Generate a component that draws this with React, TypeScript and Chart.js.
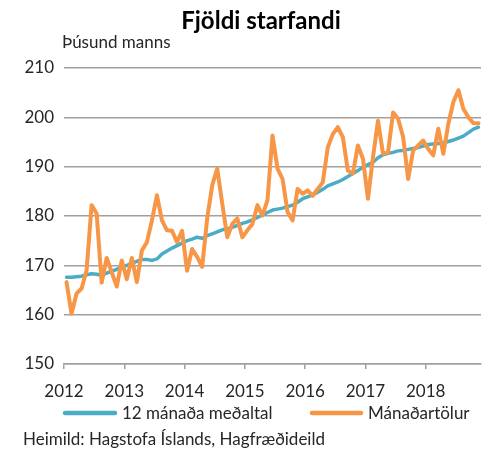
import React, { useEffect, useRef } from "react";
import { Chart, registerables } from "chart.js";

Chart.register(...registerables);

const yearLabels = ["2012", "2013", "2014", "2015", "2016", "2017", "2018"];

const average12 = [
  167.6, 167.6, 167.7, 167.8, 168.1, 168.3, 168.2, 168.0, 168.4, 168.8,
  169.2, 169.7, 170.0, 170.4, 170.8, 171.2, 171.2, 171.0, 171.3, 172.3,
  172.9, 173.5, 174.0, 174.5, 175.0, 175.3, 175.7, 175.5, 176.0, 176.4,
  176.8, 177.2, 177.4, 177.7, 178.1, 178.5, 178.8, 179.2, 179.7, 180.2,
  180.7, 181.2, 181.4, 181.6, 181.9, 182.2, 182.8, 183.5, 183.9, 184.3,
  184.8, 185.4, 186.1, 186.5, 186.9, 187.4, 188.0, 188.6, 189.2, 189.9,
  190.4, 190.9, 191.8, 192.4, 192.7, 192.9, 193.2, 193.3, 193.5, 193.7,
  193.9, 194.2, 194.5, 194.6, 194.7, 194.8, 195.1, 195.4, 195.8, 196.2,
  196.9, 197.6, 198.0,
];

const monthly = [
  166.6, 160.2, 164.3, 165.3, 169.0, 182.2, 180.5, 166.5, 171.5, 168.6,
  165.7, 171.0, 167.2, 171.5, 166.6, 173.0, 174.7, 179.1, 184.2, 179.1,
  177.1, 177.0, 174.7, 177.0, 168.9, 173.3, 171.7, 169.7, 179.5, 186.2,
  189.6, 182.5, 175.7, 178.4, 179.5, 175.7, 177.1, 178.4, 182.2, 180.1,
  183.2, 196.3, 189.6, 187.5, 180.8, 179.1, 185.5, 184.5, 185.2, 184.1,
  185.5, 186.8, 193.9, 196.6, 198.0, 196.0, 189.2, 188.6, 194.3, 191.6,
  183.5, 191.9, 199.3, 192.6, 192.9, 201.0, 199.7, 196.0, 187.5, 193.3,
  194.3, 195.3, 193.6, 192.3, 197.7, 192.6, 198.7, 203.1, 205.5, 201.7,
  200.0, 198.8, 198.8,
];

const seriesNames = ["12 mánaða meðaltal", "Mánaðartölur"];
const seriesColors = ["#4BACC6", "#F79646"];
const titleText = "Fjöldi starfandi";
const unitText = "Þúsund manns";
const sourceText = "Heimild: Hagstofa Íslands, Hagfræðideild";

const FONT = "Lato, 'Open Sans', sans-serif";
const TEXT = "#262626";
const GRID = "#a0a0a0";

const textPlugin = {
  id: "textPlugin",
  afterDraw(chart: any) {
    const ctx = chart.ctx;
    const area = chart.chartArea;
    ctx.save();
    ctx.fillStyle = "#000";
    ctx.textBaseline = "alphabetic";
    ctx.textAlign = "center";
    ctx.font = `bold 24px ${FONT}`;
    ctx.fillText(titleText, 261, 29);

    ctx.textAlign = "left";
    ctx.fillStyle = TEXT;
    ctx.font = `17px ${FONT}`;
    ctx.fillText(unitText, area.left - 2, 48);

    // legend
    const ly = 413;
    const items = [
      { x: 63, w: 54 },
      { x: 310, w: 53 },
    ];
    items.forEach((it, k) => {
      ctx.strokeStyle = seriesColors[k];
      ctx.lineWidth = 4.5;
      ctx.lineCap = "round";
      ctx.beginPath();
      ctx.moveTo(it.x + 2, ly);
      ctx.lineTo(it.x + it.w - 2, ly);
      ctx.stroke();
      ctx.fillStyle = TEXT;
      ctx.fillText(seriesNames[k], it.x + it.w + 5, ly + 6);
    });

    ctx.fillText(sourceText, 23, 445);
    ctx.restore();
  },
};

export default function App() {
  const ref = useRef<HTMLCanvasElement | null>(null);

  useEffect(() => {
    if (!ref.current) return;
    const toPts = (arr: number[]) => arr.map((v, i) => ({ x: i + 0.5, y: v }));
    const chart = new Chart(ref.current, {
      type: "line",
      data: {
        datasets: [
          {
            label: seriesNames[0],
            data: toPts(average12),
            borderColor: seriesColors[0],
            backgroundColor: seriesColors[0],
            borderWidth: 3.5,
            pointRadius: 0,
            tension: 0,
            borderJoinStyle: "round",
            borderCapStyle: "round",
            order: 2,
          },
          {
            label: seriesNames[1],
            data: toPts(monthly),
            borderColor: seriesColors[1],
            backgroundColor: seriesColors[1],
            borderWidth: 4,
            pointRadius: 0,
            tension: 0,
            borderJoinStyle: "round",
            borderCapStyle: "round",
            order: 1,
          },
        ],
      },
      options: {
        animation: false,
        responsive: false,
        maintainAspectRatio: false,
        layout: { padding: { top: 68, right: 5, left: 0, bottom: 0 } },
        plugins: {
          legend: { display: false },
          title: { display: false },
          tooltip: { enabled: false },
        },
        scales: {
          x: {
            type: "linear",
            min: 0,
            max: 83,
            afterFit: (s: any) => {
              s.height = 90;
            },
            afterBuildTicks: (s: any) => {
              s.ticks = yearLabels.map((_, k) => ({ value: k * 12 }));
            },
            ticks: {
              autoSkip: false,
              maxRotation: 0,
              padding: 12,
              color: TEXT,
              font: { family: FONT, size: 17 },
              callback: (v: any) => yearLabels[Math.round(Number(v) / 12)] ?? "",
            },
            grid: {
              drawOnChartArea: false,
              drawTicks: true,
              tickLength: 5,
              color: GRID,
              lineWidth: 1.5,
            },
            border: { display: true, color: GRID, width: 1.5 },
          },
          y: {
            min: 150,
            max: 210,
            afterFit: (s: any) => {
              s.width = 64;
            },
            ticks: {
              stepSize: 10,
              padding: 10,
              color: TEXT,
              font: { family: FONT, size: 17 },
            },
            grid: {
              drawTicks: false,
              color: GRID,
              lineWidth: 1.5,
            },
            border: { display: false },
          },
        },
      },
      plugins: [textPlugin],
    });
    return () => chart.destroy();
  }, []);

  return (
    <div style={{ position: "fixed", left: 0, top: 0, width: 486, height: 454, background: "#fff" }}>
      <canvas ref={ref} width={486} height={454} style={{ width: 486, height: 454, display: "block" }} />
    </div>
  );
}
